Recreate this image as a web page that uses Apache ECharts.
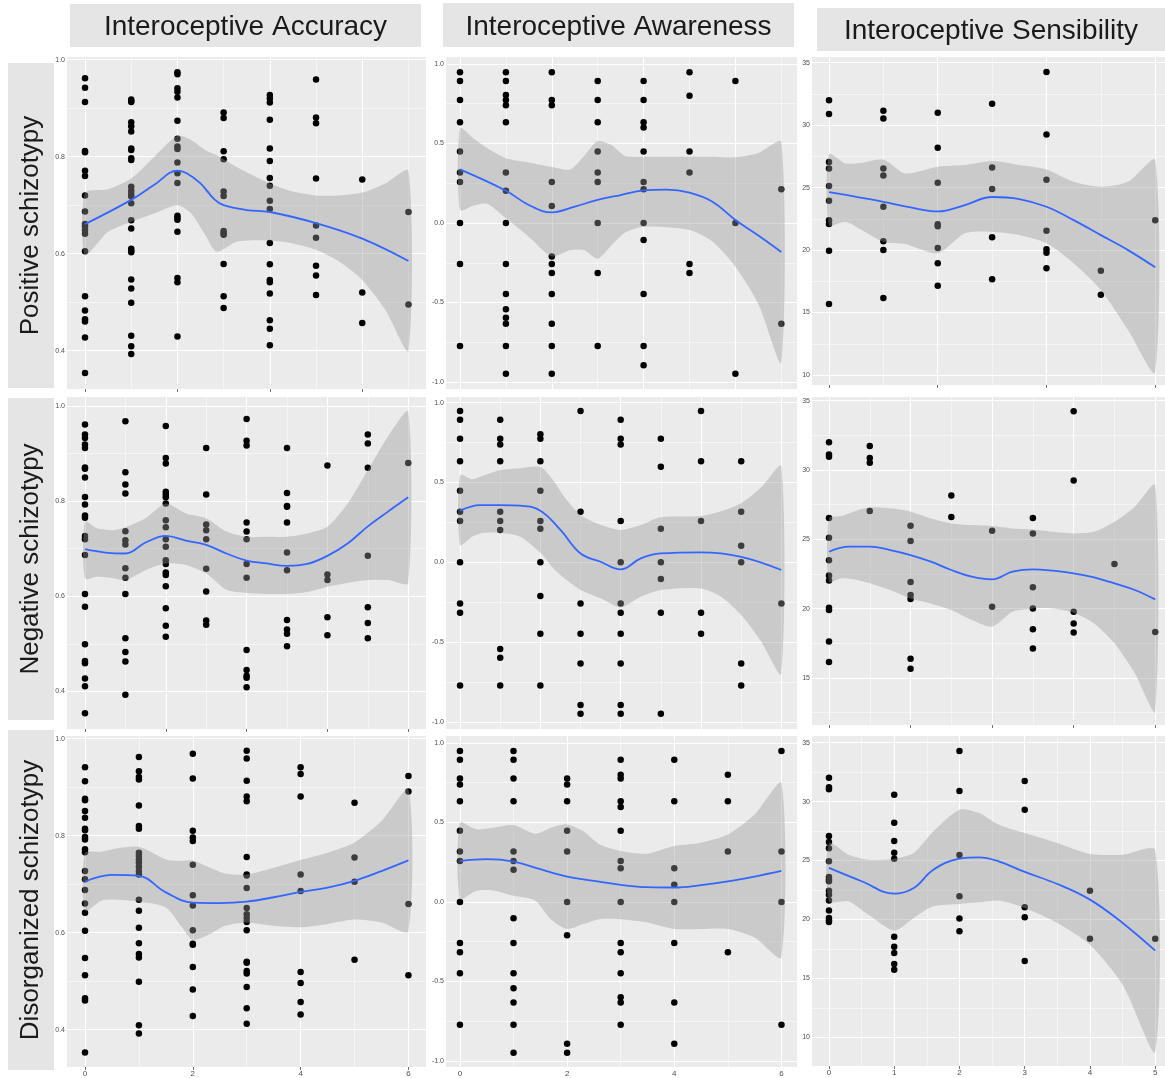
<!DOCTYPE html>
<html>
<head>
<meta charset="utf-8">
<script src="https://cdn.jsdelivr.net/npm/echarts@6/dist/echarts.min.js"></script>
<style>
html, body { margin: 0; padding: 0; background: #fff; }
#chart { width: 1165px; height: 1078px; }
</style>
</head>
<body>
<div id="chart"></div>
<script>
// facet titles
const colHeaders = ['Interoceptive Accuracy', 'Interoceptive Awareness', 'Interoceptive Sensibility'];
const rowHeaders = ['Positive schizotypy', 'Negative schizotypy', 'Disorganized schizotypy'];

// tick values
const accTicks = [0.4, 0.6, 0.8, 1.0];
const accMinor = [0.3, 0.5, 0.7, 0.9];
const awTicks = [-1, -0.5, 0, 0.5, 1];
const awMinor = [-0.75, -0.25, 0.25, 0.75];
const sensTicks = [10, 15, 20, 25, 30, 35];
const sensMinor = [7.5, 12.5, 17.5, 22.5, 27.5, 32.5];
const xTicksEven8 = [0, 2, 4, 6, 8];
const xMinorOdd = [1, 3, 5, 7];
const xTicks5 = [0, 1, 2, 3, 4, 5];
const xMinor5 = [0.5, 1.5, 2.5, 3.5, 4.5];

// points, one list of y values per x = 0, 1, 2 ...
const accPos = [
  [0.962, 0.942, 0.913, 0.812, 0.809, 0.771, 0.760, 0.720, 0.687, 0.661, 0.656, 0.649, 0.641, 0.605, 0.512, 0.483, 0.465, 0.460, 0.427, 0.354],
  [0.918, 0.915, 0.913, 0.871, 0.863, 0.852, 0.817, 0.814, 0.797, 0.793, 0.738, 0.730, 0.723, 0.718, 0.704, 0.669, 0.652, 0.610, 0.606, 0.603, 0.547, 0.528, 0.499, 0.431, 0.409, 0.393],
  [0.974, 0.970, 0.941, 0.934, 0.922, 0.874, 0.837, 0.821, 0.816, 0.788, 0.766, 0.746, 0.678, 0.674, 0.670, 0.645, 0.550, 0.541, 0.429],
  [0.891, 0.880, 0.811, 0.795, 0.728, 0.719, 0.647, 0.642, 0.639, 0.579, 0.512, 0.488],
  [0.927, 0.920, 0.912, 0.876, 0.817, 0.791, 0.756, 0.740, 0.709, 0.692, 0.622, 0.578, 0.546, 0.541, 0.518, 0.463, 0.445, 0.411],
  [0.959, 0.881, 0.869, 0.755, 0.658, 0.633, 0.575, 0.555, 0.515],
  [0.753, 0.520, 0.457],
  [0.686, 0.495]
];
const awPos = [
  [0.948, 0.893, 0.774, 0.633, 0.449, 0.317, 0.258, 0, -0.258, -0.774],
  [0.948, 0.893, 0.805, 0.774, 0.740, 0.633, 0.317, 0.203, 0, -0.258, -0.447, -0.543, -0.596, -0.633, -0.774, -0.948],
  [0.948, 0.774, 0.740, 0.258, 0.107, -0.21, -0.258, -0.314, -0.447, -0.633, -0.774, -0.948],
  [0.893, 0.774, 0.633, 0.449, 0.317, 0.258, 0, -0.314, -0.774],
  [0.893, 0.774, 0.633, 0.600, 0.449, 0.258, 0.212, 0, -0.107, -0.447, -0.774, -0.895],
  [0.948, 0.801, 0.449, 0.317, -0.258, -0.314],
  [0.893, 0, -0.948],
  [0.212, -0.633]
];
const sensPos = [
  [32.0, 30.9, 27.05, 26.54, 25.13, 23.96, 22.39, 22.09, 19.95, 15.68],
  [31.16, 30.54, 26.54, 25.98, 23.48, 20.71, 20.0, 16.17],
  [31.0, 28.2, 25.4, 22.07, 21.9, 20.16, 18.94, 17.15],
  [31.72, 26.62, 24.89, 21.02, 17.66],
  [34.25, 29.26, 25.63, 21.55, 20.06, 19.79, 18.54],
  [18.35, 16.43],
  [22.39]
];
const accNeg = [
  [0.961, 0.940, 0.933, 0.919, 0.912, 0.871, 0.868, 0.850, 0.809, 0.793, 0.770, 0.765, 0.727, 0.720, 0.687, 0.605, 0.578, 0.499, 0.464, 0.459, 0.427, 0.411, 0.354],
  [0.968, 0.861, 0.835, 0.816, 0.737, 0.718, 0.709, 0.659, 0.639, 0.605, 0.512, 0.483, 0.463, 0.393],
  [0.958, 0.891, 0.879, 0.820, 0.814, 0.808, 0.795, 0.760, 0.745, 0.720, 0.704, 0.676, 0.668, 0.650, 0.645, 0.621, 0.575, 0.538, 0.515],
  [0.912, 0.814, 0.751, 0.739, 0.720, 0.658, 0.610, 0.549, 0.540],
  [0.973, 0.927, 0.917, 0.755, 0.736, 0.720, 0.668, 0.639, 0.487, 0.445, 0.433, 0.429, 0.409],
  [0.912, 0.817, 0.790, 0.788, 0.755, 0.692, 0.655, 0.550, 0.530, 0.521, 0.495],
  [0.875, 0.646, 0.634, 0.556, 0.518],
  [0.940, 0.921, 0.870, 0.685, 0.577, 0.544, 0.512],
  [0.880]
];
const awNeg = [
  [0.948, 0.894, 0.775, 0.633, 0.449, 0.317, 0.259, 0, -0.257, -0.315, -0.772],
  [0.894, 0.775, 0.739, 0.633, 0.317, 0.259, 0.203, -0.543, -0.597, -0.772],
  [0.802, 0.775, 0.633, 0.449, 0.259, 0.211, 0, -0.211, -0.447, -0.772],
  [0.948, 0.317, -0.257, -0.447, -0.633, -0.894, -0.948],
  [0.894, 0.775, 0.739, 0.259, 0, -0.257, -0.315, -0.447, -0.633, -0.894, -0.948],
  [0.775, 0.599, 0.211, 0, -0.104, -0.315, -0.948],
  [0.948, 0.633, 0.259, -0.315, -0.447],
  [0.633, 0.317, 0.104, 0, -0.633, -0.772],
  [-0.257]
];
const sensNeg = [
  [32.0, 31.13, 30.96, 26.54, 25.12, 23.49, 22.4, 22.04, 20.07, 19.9, 17.64, 16.15],
  [31.73, 30.87, 30.53, 27.04],
  [25.99, 24.88, 21.92, 20.99, 20.7, 16.39, 15.67],
  [28.17, 26.61],
  [25.63, 20.14],
  [26.54, 25.43, 21.54, 20.02, 18.51, 17.12],
  [34.25, 29.25, 19.78, 18.94, 18.29],
  [23.22],
  [18.32]
];
const accDis = [
  [0.941, 0.912, 0.876, 0.873, 0.851, 0.837, 0.814, 0.811, 0.797, 0.792, 0.772, 0.766, 0.727, 0.710, 0.688, 0.660, 0.641, 0.604, 0.548, 0.512, 0.465, 0.460, 0.353],
  [0.962, 0.933, 0.921, 0.916, 0.862, 0.820, 0.814, 0.765, 0.758, 0.751, 0.744, 0.736, 0.727, 0.720, 0.668, 0.645, 0.610, 0.578, 0.556, 0.549, 0.499, 0.409, 0.392],
  [0.969, 0.918, 0.810, 0.796, 0.789, 0.740, 0.677, 0.656, 0.605, 0.577, 0.575, 0.529, 0.483, 0.428],
  [0.975, 0.959, 0.913, 0.881, 0.871, 0.756, 0.720, 0.718, 0.692, 0.651, 0.638, 0.630, 0.622, 0.605, 0.540, 0.538, 0.521, 0.516, 0.488, 0.444, 0.412],
  [0.941, 0.927, 0.881, 0.720, 0.686, 0.519, 0.496, 0.457, 0.431],
  [0.868, 0.755, 0.705, 0.544],
  [0.923, 0.891, 0.659, 0.512]
];
const awDis = [
  [0.950, 0.895, 0.776, 0.739, 0.634, 0.448, 0.317, 0.258, 0, -0.258, -0.317, -0.448, -0.772],
  [0.950, 0.895, 0.776, 0.634, 0.317, 0.258, 0.202, -0.103, -0.258, -0.448, -0.542, -0.632, -0.772, -0.948],
  [0.776, 0.739, 0.634, 0.448, 0.317, 0, -0.210, -0.891, -0.948],
  [0.895, 0.801, 0.776, 0.634, 0.597, 0.448, 0.258, 0.212, 0, -0.258, -0.317, -0.448, -0.599, -0.632, -0.772],
  [0.895, 0.634, 0.212, 0.108, 0, -0.258, -0.632, -0.891],
  [0.801, 0.634, 0.317, -0.317],
  [0.950, 0.317, 0, -0.772]
];
const sensDis = [
  [32.03, 31.21, 31.04, 27.08, 26.57, 26.04, 24.93, 23.6, 23.38, 23.24, 22.44, 22.1, 21.6, 20.75, 20.12, 19.93, 19.79],
  [30.59, 28.21, 26.66, 25.67, 25.16, 18.54, 17.69, 17.15, 16.22, 15.74],
  [34.29, 30.9, 25.47, 21.96, 20.07, 18.99],
  [31.75, 29.32, 21.03, 20.18, 16.48],
  [22.44, 18.37],
  [18.37]
];

// smooth fits
const accPosFitX = [0, 1, 1.5, 2, 2.2, 2.5, 2.8, 3, 3.5, 4, 5, 6, 7];
const accPosFitY = [0.661, 0.711, 0.742, 0.771, 0.766, 0.745, 0.712, 0.700, 0.690, 0.686, 0.663, 0.631, 0.585];
const awPosFitX = [0, 1, 1.5, 2, 2.5, 3, 3.5, 4, 4.5, 5, 5.5, 6, 6.5, 7];
const awPosFitY = [0.337, 0.203, 0.113, 0.067, 0.103, 0.145, 0.176, 0.205, 0.210, 0.191, 0.134, 0.019, -0.078, -0.182];
const sensPosFitX = [0, 0.5, 1, 1.5, 2, 2.5, 3, 3.5, 4, 4.5, 5, 5.5, 6];
const sensPosFitY = [24.65, 24.27, 23.87, 23.42, 23.10, 23.61, 24.25, 24.09, 23.47, 22.4, 21.2, 20.0, 18.62];
const accNegFitX = [0, 0.5, 1, 1.5, 2, 2.5, 3, 3.5, 4, 4.5, 5, 5.5, 6, 6.5, 7, 7.5, 8];
const accNegFitY = [0.699, 0.692, 0.690, 0.713, 0.727, 0.717, 0.708, 0.690, 0.675, 0.669, 0.664, 0.668, 0.685, 0.711, 0.747, 0.778, 0.808];
const awNegFitX = [0, 0.5, 1, 1.5, 2, 2.5, 3, 3.5, 4, 4.5, 5, 6, 7, 8];
const awNegFitY = [0.324, 0.359, 0.359, 0.355, 0.324, 0.203, 0.056, 0.004, -0.044, 0.025, 0.056, 0.063, 0.035, -0.048];
const sensNegFitX = [0, 0.5, 1, 1.5, 2, 2.5, 3, 3.5, 4, 4.5, 5, 5.5, 6, 6.5, 7, 7.5, 8];
const sensNegFitY = [24.11, 24.47, 24.47, 24.23, 23.87, 23.39, 22.79, 22.31, 22.12, 22.67, 22.84, 22.74, 22.55, 22.26, 21.83, 21.35, 20.67];
const accDisFitX = [0, 0.5, 1, 1.5, 2, 2.5, 3, 3.5, 4, 4.5, 5, 5.5, 6];
const accDisFitY = [0.705, 0.719, 0.717, 0.683, 0.662, 0.661, 0.664, 0.673, 0.684, 0.693, 0.707, 0.727, 0.749];
const awDisFitX = [0, 0.5, 1, 1.5, 2, 2.5, 3, 3.5, 4, 4.5, 5, 5.5, 6];
const awDisFitY = [0.258, 0.269, 0.254, 0.206, 0.160, 0.133, 0.108, 0.093, 0.091, 0.106, 0.129, 0.160, 0.195];
const sensDisFitX = [0, 0.5, 1, 1.3, 1.6, 2, 2.3, 2.6, 3, 3.5, 4, 4.5, 5];
const sensDisFitY = [24.37, 23.24, 22.19, 22.67, 24.22, 25.16, 25.27, 24.93, 24.03, 23.01, 21.68, 19.7, 17.35];

// confidence bands
const accPosBandX = [0, 0.5, 1, 1.5, 2, 2.3, 2.6, 2.85, 3.3, 4, 4.5, 5, 5.5, 6, 6.5, 7];
const accPosHi = [0.725, 0.733, 0.755, 0.800, 0.843, 0.834, 0.814, 0.803, 0.778, 0.745, 0.728, 0.720, 0.720, 0.726, 0.745, 0.771];
const accPosLo = [0.597, 0.645, 0.666, 0.683, 0.700, 0.683, 0.639, 0.604, 0.625, 0.627, 0.621, 0.608, 0.584, 0.546, 0.484, 0.400];
const awPosBandX = [0, 0.3, 0.6, 1, 1.5, 2, 2.4, 2.7, 3, 3.3, 3.6, 4, 5, 5.5, 6, 6.5, 7];
const awPosHi = [0.595, 0.53, 0.47, 0.407, 0.380, 0.352, 0.337, 0.42, 0.515, 0.49, 0.421, 0.417, 0.417, 0.417, 0.413, 0.440, 0.509];
const awPosLo = [0.082, 0.11, 0.12, 0.03, -0.086, -0.21, -0.17, -0.17, -0.225, -0.14, -0.06, -0.023, -0.044, -0.117, -0.275, -0.51, -0.878];
const sensPosBandX = [0, 0.3, 0.6, 1, 1.4, 2, 2.5, 3, 3.5, 4, 4.5, 5, 5.5, 6];
const sensPosHi = [27.69, 26.94, 27.0, 27.26, 26.14, 26.68, 26.81, 27.13, 26.81, 26.46, 25.47, 25.07, 25.47, 27.21];
const sensPosLo = [22.0, 22.26, 21.6, 20.67, 20.48, 19.74, 21.34, 21.47, 21.2, 20.54, 18.94, 16.8, 13.6, 10.19];
const accNegBandX = [0, 0.3, 0.7, 1, 1.5, 2, 2.5, 3, 3.5, 4, 4.5, 5, 5.5, 6, 6.5, 7, 7.5, 8];
const accNegHi = [0.757, 0.743, 0.739, 0.745, 0.764, 0.795, 0.774, 0.764, 0.736, 0.725, 0.725, 0.725, 0.732, 0.746, 0.795, 0.865, 0.936, 0.988];
const accNegLo = [0.638, 0.641, 0.638, 0.634, 0.655, 0.669, 0.666, 0.648, 0.614, 0.607, 0.605, 0.605, 0.609, 0.620, 0.628, 0.634, 0.634, 0.628];
const awNegBandX = [0, 0.3, 0.6, 1, 1.5, 2, 2.3, 2.6, 3, 3.5, 4, 4.5, 5, 6, 6.5, 7, 7.5, 8];
const awNegHi = [0.547, 0.52, 0.545, 0.578, 0.59, 0.597, 0.52, 0.41, 0.297, 0.235, 0.203, 0.234, 0.282, 0.290, 0.32, 0.37, 0.47, 0.603];
const awNegLo = [0.109, 0.161, 0.185, 0.186, 0.161, 0.06, -0.03, -0.1, -0.173, -0.225, -0.282, -0.215, -0.173, -0.163, -0.215, -0.330, -0.497, -0.699];
const sensNegBandX = [0, 0.3, 0.6, 1, 1.5, 2, 2.5, 3, 3.5, 4, 4.5, 5, 5.5, 6, 6.5, 7, 7.5, 8];
const sensNegHi = [26.51, 26.68, 27.0, 27.31, 27.24, 27.0, 26.51, 26.15, 26.03, 25.96, 25.79, 25.72, 25.55, 25.43, 25.55, 26.27, 27.36, 28.92];
const sensNegLo = [21.95, 22.19, 22.12, 21.83, 21.35, 20.74, 20.38, 19.9, 19.18, 18.7, 19.78, 20.02, 20.02, 19.71, 18.94, 17.5, 15.34, 12.57];
const accDisBandX = [0, 0.3, 0.6, 1, 1.5, 1.8, 2, 2.3, 2.6, 3, 3.5, 4, 4.5, 5, 5.5, 6];
const accDisHi = [0.764, 0.767, 0.774, 0.777, 0.751, 0.748, 0.749, 0.735, 0.722, 0.720, 0.734, 0.750, 0.765, 0.786, 0.830, 0.895];
const accDisLo = [0.645, 0.666, 0.668, 0.664, 0.652, 0.611, 0.585, 0.596, 0.614, 0.621, 0.614, 0.611, 0.618, 0.627, 0.621, 0.603];
const awDisBandX = [0, 0.3, 0.6, 1, 1.4, 1.7, 2, 2.3, 2.6, 3, 3.5, 4, 4.5, 5, 5.5, 6];
const awDisHi = [0.498, 0.457, 0.467, 0.484, 0.429, 0.467, 0.488, 0.446, 0.363, 0.321, 0.304, 0.352, 0.373, 0.425, 0.551, 0.749];
const awDisLo = [0.018, 0.070, 0.074, 0.039, 0.01, -0.11, -0.170, -0.139, -0.108, -0.108, -0.129, -0.170, -0.170, -0.170, -0.223, -0.348];
const sensDisBandX = [0, 0.3, 0.6, 1, 1.3, 1.6, 2, 2.3, 2.6, 3, 3.5, 4, 4.5, 5];
const sensDisHi = [26.49, 25.5, 25.07, 25.16, 25.64, 27.48, 29.32, 29.03, 28.04, 27.34, 26.49, 25.55, 25.5, 25.87];
const sensDisLo = [21.54, 21.54, 20.41, 19.05, 20.12, 21.11, 21.31, 21.45, 21.6, 20.97, 19.7, 17.86, 14.47, 8.76];

// panel layout: grid rect [left, top, width, height] and axis extents
const panels = [
  { rect: [67, 57, 359, 332], x: [-0.39, 7.38], y: [0.321, 1.0056], pts: accPos, fx: accPosFitX, fy: accPosFitY, bx: accPosBandX, hi: accPosHi, lo: accPosLo, yt: accTicks, ym: accMinor, xt: xTicksEven8, xm: xMinorOdd, xl: false, fmt: 1 },
  { rect: [446, 57, 351, 332], x: [-0.305, 7.342], y: [-1.044, 1.044], pts: awPos, fx: awPosFitX, fy: awPosFitY, bx: awPosBandX, hi: awPosHi, lo: awPosLo, yt: awTicks, ym: awMinor, xt: xTicksEven8, xm: xMinorOdd, xl: false, fmt: 1 },
  { rect: [812, 57, 353, 328], x: [-0.313, 6.18], y: [9.2, 35.46], pts: sensPos, fx: sensPosFitX, fy: sensPosFitY, bx: sensPosBandX, hi: sensPosHi, lo: sensPosLo, yt: sensTicks, ym: sensMinor, xt: xTicksEven8, xm: xMinorOdd, xl: false, fmt: 0 },
  { rect: [67, 397, 359, 332], x: [-0.445, 8.44], y: [0.321, 1.019], pts: accNeg, fx: accNegFitX, fy: accNegFitY, bx: accNegBandX, hi: accNegHi, lo: accNegLo, yt: accTicks, ym: accMinor, xt: xTicksEven8, xm: xMinorOdd, xl: false, fmt: 1 },
  { rect: [446, 397, 351, 332], x: [-0.35, 8.39], y: [-1.044, 1.036], pts: awNeg, fx: awNegFitX, fy: awNegFitY, bx: awNegBandX, hi: awNegHi, lo: awNegLo, yt: awTicks, ym: awMinor, xt: xTicksEven8, xm: xMinorOdd, xl: false, fmt: 1 },
  { rect: [812, 397, 353, 328], x: [-0.417, 8.24], y: [11.61, 35.27], pts: sensNeg, fx: sensNegFitX, fy: sensNegFitY, bx: sensNegBandX, hi: sensNegHi, lo: sensNegLo, yt: sensTicks, ym: sensMinor, xt: xTicksEven8, xm: xMinorOdd, xl: false, fmt: 0 },
  { rect: [67, 736, 359, 332], x: [-0.334, 6.326], y: [0.323, 1.0055], pts: accDis, fx: accDisFitX, fy: accDisFitY, bx: accDisBandX, hi: accDisHi, lo: accDisLo, yt: accTicks, ym: accMinor, xt: xTicksEven8, xm: xMinorOdd, xl: true, fmt: 1 },
  { rect: [446, 736, 351, 332], x: [-0.26, 6.29], y: [-1.038, 1.044], pts: awDis, fx: awDisFitX, fy: awDisFitY, bx: awDisBandX, hi: awDisHi, lo: awDisLo, yt: awTicks, ym: awMinor, xt: xTicksEven8, xm: xMinorOdd, xl: true, fmt: 1 },
  { rect: [812, 736, 353, 330], x: [-0.26, 5.15], y: [7.56, 35.57], pts: sensDis, fx: sensDisFitX, fy: sensDisFitY, bx: sensDisBandX, hi: sensDisHi, lo: sensDisLo, yt: sensTicks, ym: sensMinor, xt: xTicks5, xm: xMinor5, xl: true, fmt: 0 }
];

const headerBoxes = [[70, 4, 351, 43], [443, 3, 351, 44], [817, 8, 348, 43]];
const rowBoxes = [[8, 63, 46, 325], [8, 398, 46, 322], [8, 730, 46, 340]];

const FONT = '"Liberation Sans", Arial, sans-serif';

function inRange(vals, ext) {
  return vals.filter(v => v >= ext[0] && v <= ext[1]);
}

function pointsOf(cols) {
  const out = [];
  cols.forEach((ys, x) => ys.forEach(y => out.push([x, y])));
  return out;
}

let grids = [], xAxes = [], yAxes = [], series = [];

panels.forEach((p, i) => {
  grids.push({
    left: p.rect[0], top: p.rect[1], width: p.rect[2], height: p.rect[3],
    show: true, backgroundColor: '#ebebeb', borderWidth: 0, containLabel: false
  });
  const xt = inRange(p.xt, p.x);
  const yt = inRange(p.yt, p.y);
  xAxes.push({
    type: 'value', gridIndex: i, min: p.x[0], max: p.x[1],
    axisLine: { show: false },
    splitLine: { show: false },
    axisTick: { show: true, length: 3, customValues: xt, lineStyle: { color: '#4d4d4d', width: 0.8 } },
    axisLabel: { show: p.xl, customValues: xt, margin: 3, fontSize: 8, color: '#4d4d4d', fontFamily: FONT }
  });
  yAxes.push({
    type: 'value', gridIndex: i, min: p.y[0], max: p.y[1],
    axisLine: { show: false },
    splitLine: { show: false },
    axisTick: { show: true, length: 3, customValues: yt, lineStyle: { color: '#4d4d4d', width: 0.8 } },
    axisLabel: {
      show: true, customValues: yt, margin: 2, fontSize: 7, color: '#4d4d4d', fontFamily: FONT,
      formatter: v => Number(v).toFixed(p.fmt)
    }
  });

  // grid lines, major and minor, through the axes' own scales
  const gl = [];
  inRange(p.xm, p.x).forEach(v => gl.push({ xAxis: v, lineStyle: { color: '#fff', width: 0.5, type: 'solid' } }));
  inRange(p.ym, p.y).forEach(v => gl.push({ yAxis: v, lineStyle: { color: '#fff', width: 0.5, type: 'solid' } }));
  xt.forEach(v => gl.push({ xAxis: v, lineStyle: { color: '#fff', width: 1.1, type: 'solid' } }));
  yt.forEach(v => gl.push({ yAxis: v, lineStyle: { color: '#fff', width: 1.1, type: 'solid' } }));

  series.push({
    type: 'scatter', xAxisIndex: i, yAxisIndex: i, z: 2,
    data: pointsOf(p.pts), symbolSize: 6.5, silent: true,
    itemStyle: { color: '#000', opacity: 1 },
    markLine: {
      z: 1, silent: true, symbol: ['none', 'none'], animation: false,
      label: { show: false }, emphasis: { disabled: true },
      data: gl
    }
  });

  series.push({
    type: 'custom', xAxisIndex: i, yAxisIndex: i, z: 3, silent: true, clip: true,
    data: [[p.bx[0], p.lo[0]]],
    renderItem: (params, api) => {
      const top = p.bx.map((x, k) => api.coord([x, p.hi[k]]));
      const bot = p.bx.map((x, k) => api.coord([x, p.lo[k]])).reverse();
      return {
        type: 'polygon',
        shape: { points: top.concat(bot), smooth: 0.25 },
        style: { fill: 'rgba(153,153,153,0.4)' }
      };
    }
  });

  series.push({
    type: 'line', xAxisIndex: i, yAxisIndex: i, z: 4, silent: true,
    data: p.fx.map((x, k) => [x, p.fy[k]]),
    smooth: 0.4, showSymbol: false, symbol: 'none',
    lineStyle: { color: '#3366FF', width: 1.8 }
  });
});

const graphic = [];
colHeaders.forEach((t, i) => {
  const b = headerBoxes[i];
  graphic.push({ type: 'rect', shape: { x: b[0], y: b[1], width: b[2], height: b[3] }, style: { fill: '#e5e5e5' }, silent: true });
  graphic.push({
    type: 'text', x: b[0] + b[2] / 2, y: b[1] + b[3] / 2 + 2, silent: true,
    style: { text: t, fill: '#1a1a1a', font: '28px ' + FONT, align: 'center', verticalAlign: 'middle' }
  });
});
rowHeaders.forEach((t, i) => {
  const b = rowBoxes[i];
  graphic.push({ type: 'rect', shape: { x: b[0], y: b[1], width: b[2], height: b[3] }, style: { fill: '#e5e5e5' }, silent: true });
  graphic.push({
    type: 'text', x: b[0] + b[2] / 2, y: b[1] + b[3] / 2, rotation: Math.PI / 2, silent: true,
    style: { text: t, fill: '#1a1a1a', font: '26px ' + FONT, align: 'center', verticalAlign: 'middle' }
  });
});

const chart = echarts.init(document.getElementById('chart'), null, { renderer: 'canvas' });
chart.setOption({
  animation: false,
  backgroundColor: '#ffffff',
  grid: grids,
  xAxis: xAxes,
  yAxis: yAxes,
  series: series,
  graphic: graphic
});
</script>
</body>
</html>
